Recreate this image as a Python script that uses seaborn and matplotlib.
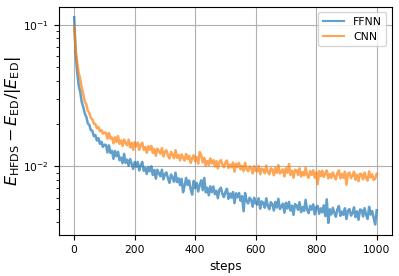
import numpy as np
import matplotlib
matplotlib.use("Agg")
import matplotlib.pyplot as plt
import seaborn as sns

# relative energy error, every 5 steps
steps = np.arange(0, 1001, 5)

ffnn = [
    0.1130, 0.0620, 0.0460, 0.0372, 0.0335, 0.0284, 0.0262, 0.0236, 0.0224, 0.0201,
    0.0196, 0.0180, 0.0178, 0.0163, 0.0166, 0.0152, 0.0158, 0.0144, 0.0149, 0.0137,
    0.0142,
    0.01414, 0.01250, 0.01404, 0.01242, 0.01285, 0.01128, 0.01281, 0.01176, 0.01263, 0.01102,
    0.01151, 0.01051, 0.01221, 0.01056, 0.01112, 0.01006, 0.01124, 0.01040, 0.00957, 0.01071,
    0.00990, 0.01073, 0.00933, 0.01014, 0.01073, 0.00927, 0.00977, 0.00881, 0.00987, 0.00921,
    0.00997, 0.00868, 0.00942, 0.00816, 0.00944, 0.00891, 0.00848, 0.00945, 0.00807, 0.00877,
    0.00904, 0.00821, 0.00763, 0.00874, 0.00833, 0.00777, 0.00900, 0.00772, 0.00821, 0.00735,
    0.00815, 0.00654, 0.00726, 0.00827, 0.00737, 0.00792, 0.00688, 0.00630, 0.00788, 0.00701,
    0.00761, 0.00662, 0.00736, 0.00795, 0.00677, 0.00826, 0.00653, 0.00704, 0.00623, 0.00721,
    0.00656, 0.00719, 0.00635, 0.00671, 0.00594, 0.00682, 0.00704, 0.00635, 0.00605, 0.00659,
    0.00693, 0.00588, 0.00641, 0.00599, 0.00657, 0.00548, 0.00643, 0.00602, 0.00646, 0.00570,
    0.00614, 0.00480, 0.00647, 0.00566, 0.00545, 0.00599, 0.00578, 0.00517, 0.00598, 0.00549,
    0.00535, 0.00593, 0.00501, 0.00564, 0.00550, 0.00509, 0.00593, 0.00525, 0.00496, 0.00557,
    0.00540, 0.00486, 0.00559, 0.00510, 0.00588, 0.00498, 0.00518, 0.00543, 0.00469, 0.00551,
    0.00503, 0.00559, 0.00486, 0.00526, 0.00453, 0.00540, 0.00528, 0.00492, 0.00557, 0.00474,
    0.00514, 0.00483, 0.00578, 0.00491, 0.00465, 0.00524, 0.00493, 0.00537, 0.00456, 0.00515,
    0.00523, 0.00461, 0.00504, 0.00472, 0.00529, 0.00444, 0.00583, 0.00397, 0.00496, 0.00456,
    0.00508, 0.00468, 0.00439, 0.00495, 0.00523, 0.00446, 0.00478, 0.00453, 0.00504, 0.00423,
    0.00484, 0.00498, 0.00447, 0.00465, 0.00512, 0.00437, 0.00479, 0.00418, 0.00494, 0.00489,
    0.00441, 0.00505, 0.00453, 0.00424, 0.00516, 0.00455, 0.00482, 0.00430, 0.00387, 0.00488,
]

cnn = [
    0.0970, 0.0660, 0.0540, 0.0455, 0.0412, 0.0358, 0.0324, 0.0286, 0.0274, 0.0247,
    0.0238, 0.0219, 0.0215, 0.0200, 0.0199, 0.0186, 0.0189, 0.0177, 0.0180, 0.0170,
    0.0173,
    0.01720, 0.01568, 0.01717, 0.01568, 0.01596, 0.01451, 0.01602, 0.01484, 0.01631, 0.01440,
    0.01520, 0.01391, 0.01544, 0.01460, 0.01407, 0.01541, 0.01359, 0.01459, 0.01306, 0.01477,
    0.01382, 0.01470, 0.01307, 0.01421, 0.01466, 0.01306, 0.01364, 0.01246, 0.01383, 0.01307,
    0.01391, 0.01239, 0.01322, 0.01185, 0.01331, 0.01285, 0.01226, 0.01344, 0.01173, 0.01265,
    0.01295, 0.01189, 0.01134, 0.01260, 0.01205, 0.01138, 0.01298, 0.01148, 0.01201, 0.01100,
    0.01212, 0.01148, 0.01097, 0.01219, 0.01122, 0.01186, 0.01056, 0.01141, 0.01193, 0.01086,
    0.01160, 0.01043, 0.01260, 0.01188, 0.01062, 0.01145, 0.01009, 0.01091, 0.01021, 0.01134,
    0.01045, 0.01104, 0.00995, 0.01086, 0.00966, 0.01067, 0.01105, 0.01028, 0.00982, 0.01061,
    0.01098, 0.00971, 0.01028, 0.00984, 0.01061, 0.00915, 0.01042, 0.00988, 0.01054, 0.00950,
    0.01006, 0.00923, 0.01056, 0.00955, 0.00922, 0.00995, 0.00972, 0.00891, 0.01002, 0.00931,
    0.00920, 0.01003, 0.00878, 0.00961, 0.00949, 0.00891, 0.01011, 0.00915, 0.00876, 0.00967,
    0.00948, 0.00863, 0.00973, 0.00898, 0.01018, 0.00887, 0.00914, 0.00950, 0.00847, 0.00966,
    0.00900, 0.01035, 0.00868, 0.00930, 0.00828, 0.00944, 0.00933, 0.00868, 0.00965, 0.00846,
    0.00907, 0.00860, 0.00974, 0.00865, 0.00828, 0.00924, 0.00868, 0.00937, 0.00829, 0.00906,
    0.00747, 0.00922, 0.00851, 0.00929, 0.00840, 0.00891, 0.00934, 0.00820, 0.00880, 0.00827,
    0.00904, 0.00851, 0.00806, 0.00892, 0.00934, 0.00821, 0.00880, 0.00828, 0.00913, 0.00740,
    0.00885, 0.00901, 0.00823, 0.00856, 0.00915, 0.00803, 0.00870, 0.00784, 0.00885, 0.00876,
    0.00808, 0.00901, 0.00825, 0.00791, 0.00918, 0.00833, 0.00876, 0.00799, 0.00816, 0.00884,
]

fig = plt.figure(figsize=(3.99, 2.76), dpi=100)
ax = fig.add_axes([0.148, 0.149, 0.834, 0.826])

sns.lineplot(x=steps, y=ffnn, ax=ax, label="FFNN", color="C0", alpha=0.7, linewidth=1.8)
sns.lineplot(x=steps, y=cnn, ax=ax, label="CNN", color="C1", alpha=0.7, linewidth=1.8)

ax.set_yscale("log")
ax.grid(True)
ax.set_xticks([0, 200, 400, 600, 800, 1000])
ax.tick_params(labelsize=7.7)
ax.set_xlabel("steps", fontsize=8.7)
ax.set_ylabel(r"$E_{\mathrm{HFDS}} - E_{\mathrm{ED}}/|E_{\mathrm{ED}}|$", fontsize=11.5)
ax.yaxis.set_label_coords(-0.108, 0.5)
leg = ax.legend(loc="upper right", fontsize=7.8)
for line in leg.get_lines():
    line.set_linewidth(1.5)

fig.savefig("out.png", dpi=100)
